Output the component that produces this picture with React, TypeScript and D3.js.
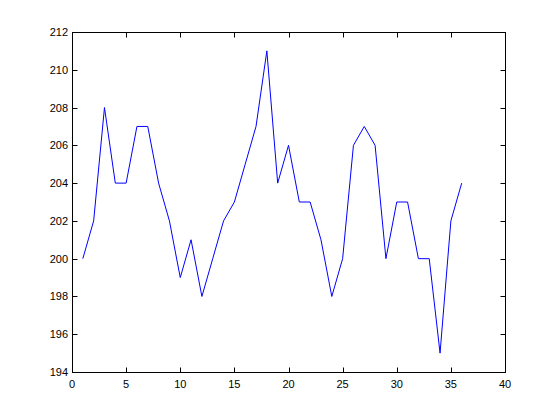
import React, { useEffect, useRef } from 'react';
import * as d3 from 'd3';

// sample index and measured value
const xValues = [1, 2, 3, 4, 5, 6, 7, 8, 9, 10, 11, 12, 13, 14, 15, 16, 17, 18,
  19, 20, 21, 22, 23, 24, 25, 26, 27, 28, 29, 30, 31, 32, 33, 34, 35, 36];
const yValues = [200, 202, 208, 204, 204, 207, 207, 204, 202, 199, 201, 198, 200, 202, 203, 205, 207, 211,
  204, 206, 203, 203, 201, 198, 200, 206, 207, 206, 200, 203, 203, 200, 200, 195, 202, 204];

const xTicks = [0, 5, 10, 15, 20, 25, 30, 35, 40];
const yTicks = [194, 196, 198, 200, 202, 204, 206, 208, 210, 212];

export default function App() {
  const ref = useRef<SVGSVGElement>(null);

  useEffect(() => {
    const width = 560;
    const height = 420;
    const left = 72, right = 505, top = 32, bottom = 372;

    const svg = d3.select(ref.current);
    svg.selectAll('*').remove();

    const x = d3.scaleLinear().domain([0, 40]).range([left, right]);
    const y = d3.scaleLinear().domain([194, 212]).range([bottom, top]);

    svg.append('rect')
      .attr('width', width)
      .attr('height', height)
      .attr('fill', '#fff');

    const tick = 5;
    const font = 'Liberation Sans, Arial, sans-serif';

    // box
    svg.append('rect')
      .attr('x', left + 0.5)
      .attr('y', top + 0.5)
      .attr('width', right - left)
      .attr('height', bottom - top)
      .attr('fill', 'none')
      .attr('stroke', '#000')
      .attr('stroke-width', 1);

    // x ticks (bottom and top, pointing inward)
    xTicks.forEach(t => {
      const px = Math.round(x(t)) + 0.5;
      svg.append('line').attr('x1', px).attr('x2', px)
        .attr('y1', bottom + 0.5).attr('y2', bottom + 0.5 - tick).attr('stroke', '#000');
      svg.append('line').attr('x1', px).attr('x2', px)
        .attr('y1', top + 0.5).attr('y2', top + 0.5 + tick).attr('stroke', '#000');
      svg.append('text')
        .attr('x', x(t))
        .attr('y', bottom + 16)
        .attr('text-anchor', 'middle')
        .style('font-family', font)
        .style('font-size', '11px')
        .text(t);
    });

    // y ticks (left and right)
    yTicks.forEach(t => {
      const py = Math.round(y(t)) + 0.5;
      svg.append('line').attr('x1', left + 0.5).attr('x2', left + 0.5 + tick)
        .attr('y1', py).attr('y2', py).attr('stroke', '#000');
      svg.append('line').attr('x1', right + 0.5).attr('x2', right + 0.5 - tick)
        .attr('y1', py).attr('y2', py).attr('stroke', '#000');
      svg.append('text')
        .attr('x', left - 4)
        .attr('y', y(t) + 4)
        .attr('text-anchor', 'end')
        .style('font-family', font)
        .style('font-size', '11px')
        .text(t);
    });

    const line = d3.line<number>()
      .x((_, i) => x(xValues[i]))
      .y(d => y(d));

    svg.append('path')
      .datum(yValues)
      .attr('d', line)
      .attr('fill', 'none')
      .attr('stroke', '#0000ff')
      .attr('stroke-width', 1);
  }, []);

  return (
    <div style={{ position: 'absolute', left: 0, top: 0 }}>
      <svg ref={ref} width={560} height={420} style={{ display: 'block' }} />
    </div>
  );
}
